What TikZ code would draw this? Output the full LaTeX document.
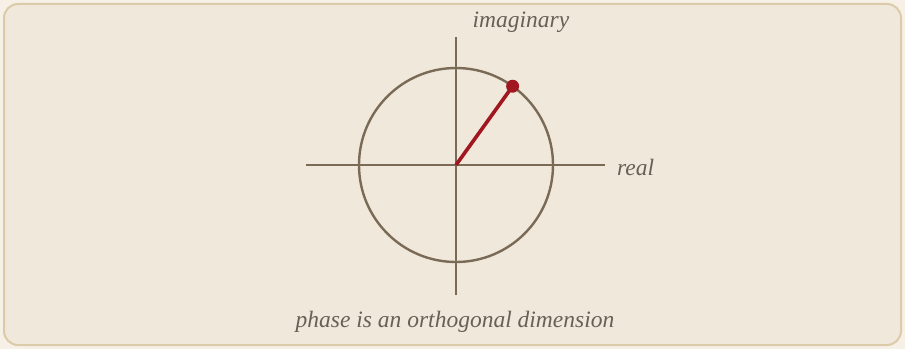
\documentclass[tikz,border=0pt]{standalone}
\usepackage{fontspec}
\setmainfont{Liberation Serif}
\usetikzlibrary{calc}
\definecolor{pagebg}{HTML}{F6F0E7}
\definecolor{boxbg}{HTML}{F1E8DC}
\definecolor{boxborder}{HTML}{DCCBA9}
\definecolor{axiscol}{HTML}{7A6B57}
\definecolor{phasecol}{HTML}{A0171F}
\definecolor{textcol}{HTML}{6A5F55}
\tikzset{
  lbl/.style={text=textcol, font=\itshape\fontsize{23.5}{26}\selectfont, inner sep=0pt},
  axisline/.style={draw=axiscol, line width=2.4pt},
}
\begin{document}
\begin{tikzpicture}[x=1pt,y=1pt]
\fill[pagebg] (0,0) rectangle (905,349);
\useasboundingbox (0,0) rectangle (905,349);
\draw[boxborder, fill=boxbg, line width=2pt, rounded corners=14pt] (4,4) rectangle (901,345);
\coordinate (o) at (456,184);
\coordinate (xl) at (306,184);
\coordinate (xr) at (605,184);
\coordinate (yb) at (456,54);
\coordinate (yt) at (456,312);
\draw[axisline] (xl) -- (xr);
\draw[axisline] (yb) -- (yt);
\draw[axisline] (o) circle (97);
\coordinate (p) at ($(o)+(54.3:97)$);
\draw[phasecol, line width=3.6pt] (o) -- (p);
\fill[phasecol] (p) circle (6.5);
\node[lbl, anchor=west] (real) at (617,182) {real};
\node[lbl] (imag) at (521,327) {imaginary};
\node[lbl] (cap) at (455,27) {phase is an orthogonal dimension};
\end{tikzpicture}
\end{document}
